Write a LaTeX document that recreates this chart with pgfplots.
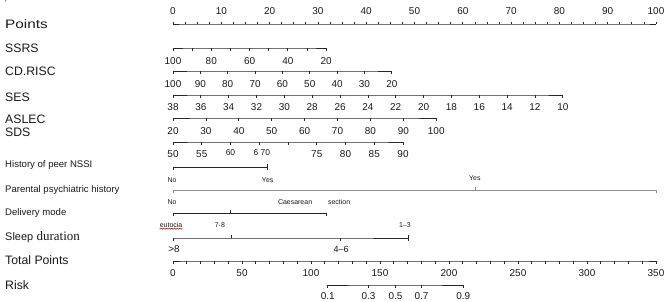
\documentclass[border=0pt]{standalone}
\usepackage{fontspec}
\setmainfont{Liberation Sans}
\newfontfamily\timesfont{Liberation Serif}
\usepackage{graphicx}
\usepackage{pgfplots}
\pgfplotsset{compat=1.18}
\usetikzlibrary{decorations.pathmorphing}

\newcommand{\fs}[1]{\fontsize{#1}{#1}\selectfont}

\tikzset{
  lab/.style={font=\fs{10}, text=black!90, inner sep=0pt},
  big/.style={font=\fs{12.3}, anchor=west, inner sep=0pt, text=black!90},
  mid/.style={font=\fs{9.6}, anchor=west, inner sep=0pt, text=black!90},
  tiny/.style={font=\fs{7}, inner sep=0pt, text=black!90},
}
\pgfplotsset{
  tickdown/.style={mark=|, mark size=1.7bp, mark options={yshift=-1.7bp}},
  tickup/.style={mark=|, mark size=1.7bp, mark options={yshift=1.7bp}},
  smallup/.style={mark=|, mark size=1.2bp, mark options={yshift=1.2bp}},
}

\begin{document}
\begin{tikzpicture}
\begin{axis}[
  scale only axis, width=669bp, height=302bp,
  % x is the "Points" scale (0-100); y runs down the page row by row
  xmin=-35.82, xmax=102.69, ymin=0, ymax=302, y dir=reverse,
  hide axis, clip=false,
  every axis plot/.append style={line width=0.75bp, color=black!85},
]

% ---------------- Points ----------------
\addplot[smallup] coordinates {
 (0,24) (2.5,24) (5,24) (7.5,24) (10,24) (12.5,24) (15,24) (17.5,24) (20,24) (22.5,24)
 (25,24) (27.5,24) (30,24) (32.5,24) (35,24) (37.5,24) (40,24) (42.5,24) (45,24) (47.5,24)
 (50,24) (52.5,24) (55,24) (57.5,24) (60,24) (62.5,24) (65,24) (67.5,24) (70,24) (72.5,24)
 (75,24) (77.5,24) (80,24) (82.5,24) (85,24) (87.5,24) (90,24) (92.5,24) (95,24) (97.5,24)
 (100,24)};
\pgfplotsinvokeforeach{0,10,20,30,40,50,60,70,80,90,100}{
  \node[lab] at (axis cs:#1,11) {#1};}

% ---------------- SSRS ----------------
\addplot[tickdown, x filter/.expression={(100-x)*31.7/80}] coordinates {
 (100,48) (90,48) (80,48) (70,48) (60,48) (50,48) (40,48) (30,48) (20,48)};
\pgfplotsinvokeforeach{100,80,60,40,20}{
  \node[lab] at (axis cs:{(100-#1)*31.7/80},61) {#1};}

% ---------------- CD.RISC ----------------
\addplot[tickdown, x filter/.expression={(100-x)*45.3/80}] coordinates {
 (100,71) (90,71) (80,71) (70,71) (60,71) (50,71) (40,71) (30,71) (20,71)};
\pgfplotsinvokeforeach{100,90,80,70,60,50,40,30,20}{
  \node[lab] at (axis cs:{(100-#1)*45.3/80},84) {#1};}

% ---------------- SES ----------------
\addplot[tickdown, x filter/.expression={(38-x)*80.7/28}] coordinates {
 (38,95) (36,95) (34,95) (32,95) (30,95) (28,95) (26,95) (24,95)
 (22,95) (20,95) (18,95) (16,95) (14,95) (12,95) (10,95)};
\pgfplotsinvokeforeach{38,36,34,32,30,28,26,24,22,20,18,16,14,12,10}{
  \node[lab] at (axis cs:{(38-#1)*80.7/28},107) {#1};}

% ---------------- ASLEC ----------------
\addplot[tickdown, x filter/.expression={(x-20)*54.5/80}] coordinates {
 (20,118) (30,118) (40,118) (50,118) (60,118) (70,118) (80,118) (90,118) (100,118)};
\pgfplotsinvokeforeach{20,30,40,50,60,70,80,90,100}{
  \node[lab] at (axis cs:{(#1-20)*54.5/80},131) {#1};}

% ---------------- SDS ----------------
\addplot[tickdown, x filter/.expression={(x-50)*47.62/40}] coordinates {
 (50,142) (55,142) (60,142) (65,142) (70,142) (75,142) (80,142) (85,142) (90,142)};
\pgfplotsinvokeforeach{50,55,75,80,85,90}{
  \node[lab] at (axis cs:{(#1-50)*47.62/40},154) {#1};}
\node[lab, font=\fs{8.5}] at (axis cs:11.9,153) {60};
\node[lab, font=\fs{8.5}] at (axis cs:18.4,153) {6 70};

% ---------------- History of peer NSSI ----------------
\addplot[tickdown] coordinates {(0,167) (19.46,167)};
\addplot[tickup, only marks] coordinates {(19.46,167)};
\node[tiny] at (axis cs:-0.2,180) {No};
\node[tiny] at (axis cs:19.6,180) {Yes};

% ---------------- Parental psychiatric history ----------------
\addplot[tickdown, color=black!45] coordinates {(0,190) (100,190)};
\addplot[tickup, only marks, color=black!45] coordinates {(62.5,190)};
\node[tiny] at (axis cs:62.5,178) {Yes};
\node[tiny] at (axis cs:-0.2,202) {No};

% ---------------- Delivery mode ----------------
\addplot[tickdown] coordinates {(0,213) (31.8,213)};
\addplot[tickup, only marks] coordinates {(11.8,213)};
\node[tiny, anchor=west] at (axis cs:21.7,202) {Caesarean\hspace{16bp}section};
\node[tiny] (eu) at (axis cs:-0.4,225) {eutocia};
\node[tiny] at (axis cs:9.7,225) {7-8};

% ---------------- Sleep duration ----------------
\addplot[tickdown] coordinates {(0,238) (34.6,238) (48.65,238)};
\addplot[tickup, only marks] coordinates {(12.0,238) (48.65,238)};
\node[tiny] at (axis cs:48.0,225) {1–3};
\node[lab] at (axis cs:0.2,249) {>8};
\node[lab, font=\fs{9}] at (axis cs:34.8,249) {4–6};

% ---------------- Total Points ----------------
\addplot[tickdown, x filter/.expression={x/3.5}] coordinates {
 (0,261) (10,261) (20,261) (30,261) (40,261) (50,261) (60,261) (70,261) (80,261)
 (90,261) (100,261) (110,261) (120,261) (130,261) (140,261) (150,261) (160,261)
 (170,261) (180,261) (190,261) (200,261) (210,261) (220,261) (230,261) (240,261)
 (250,261) (260,261) (270,261) (280,261) (290,261) (300,261) (310,261) (320,261)
 (330,261) (340,261) (350,261)};
\pgfplotsinvokeforeach{0,50,100,150,200,250,300,350}{
  \node[lab] at (axis cs:{#1/3.5},273) {#1};}

% ---------------- Risk (on the Total Points scale) ----------------
\addplot[tickdown, x filter/.expression={x/3.5}] coordinates {
 (112.1,285) (141.7,285) (161.3,285) (180.1,285) (210.4,285)};
\node[lab] at (axis cs:{112.1/3.5},296) {0.1};
\node[lab] at (axis cs:{141.7/3.5},296) {0.3};
\node[lab] at (axis cs:{161.3/3.5},296) {0.5};
\node[lab] at (axis cs:{180.1/3.5},296) {0.7};
\node[lab] at (axis cs:{210.4/3.5},296) {0.9};

% ---------------- row names ----------------
\node[font=\fs{7}, inner sep=0pt, anchor=north] at (axis cs:-34.6,1) {'};
\node[big] at (axis cs:-34.78,24) {\scalebox{1.25}[1]{Points}};
\node[big] at (axis cs:-34.78,48) {SSRS};
\node[big] at (axis cs:-34.78,71) {CD.RISC};
\node[big] at (axis cs:-34.78,97) {SES};
\node[big] at (axis cs:-34.78,119) {ASLEC};
\node[big] at (axis cs:-34.78,132) {SDS};
\node[mid] at (axis cs:-34.78,165) {History of peer NSSI};
\node[mid] at (axis cs:-34.78,190) {Parental psychiatric history};
\node[mid] at (axis cs:-34.78,213) {Delivery mode};
\node[big] at (axis cs:-34.78,237) {{\fs{11}Sleep} {\timesfont\fs{13}duration}};
\node[big] at (axis cs:-34.78,260) {Total Points};
\node[big] at (axis cs:-34.78,285) {Risk};
\end{axis}
\draw[red!80!black, line width=0.4bp, decorate,
      decoration={snake, amplitude=0.5bp, segment length=1.6bp}]
  ([yshift=-1bp]eu.south west) -- ([yshift=-1bp]eu.south east);
% the page is exactly the axis area
\pgfresetboundingbox
\useasboundingbox (current axis.south west) rectangle (current axis.north east);
\end{tikzpicture}
\end{document}
